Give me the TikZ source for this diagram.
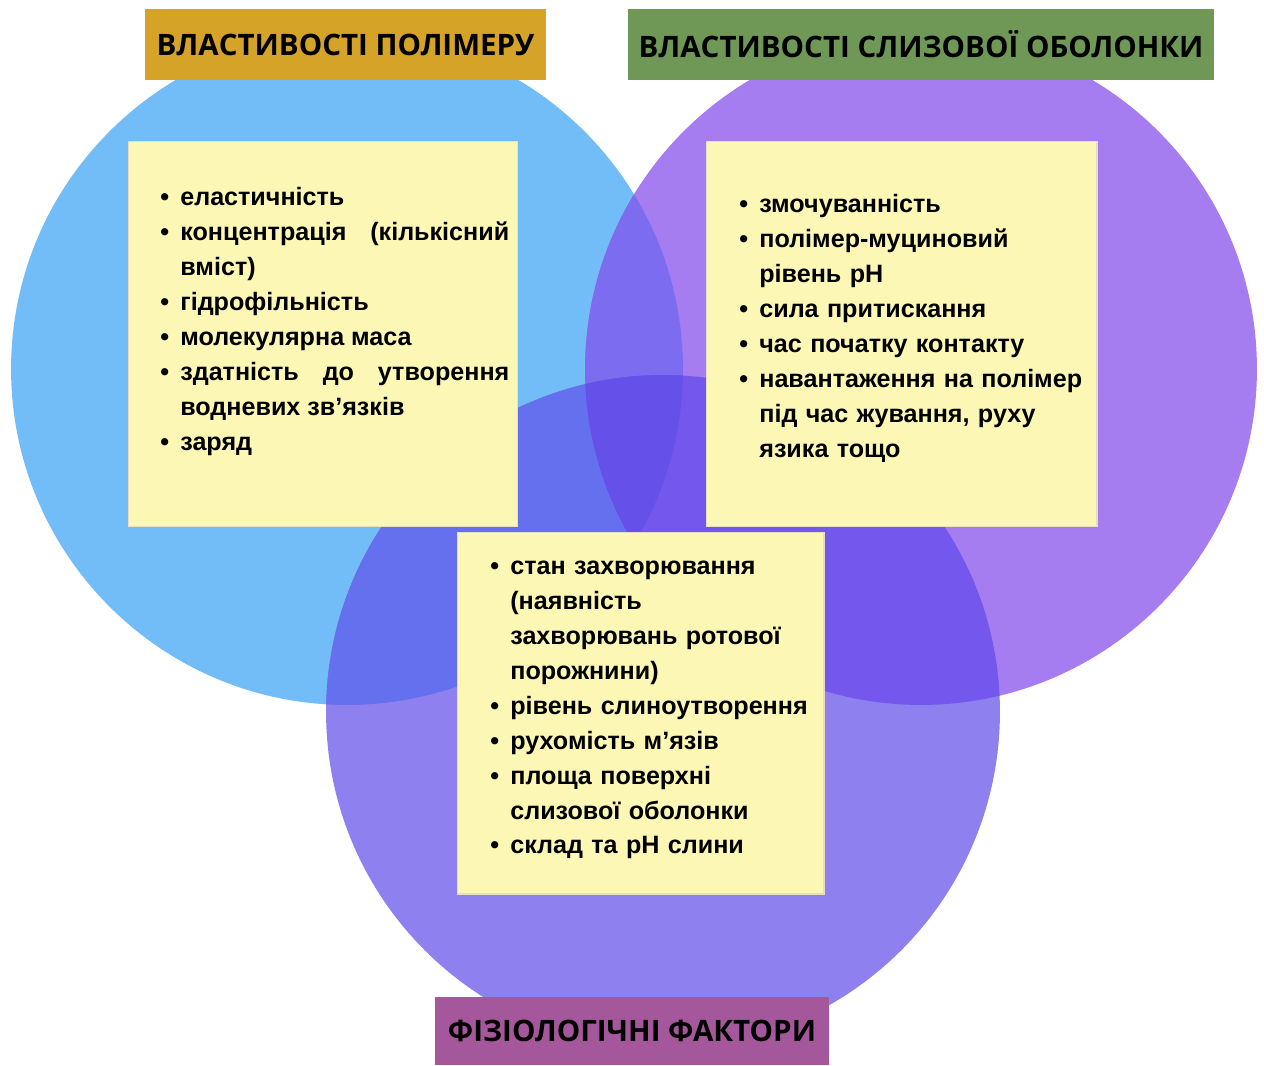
\documentclass[tikz,border=0pt]{standalone}
\usepackage{fontspec}
\newfontfamily\listfont{Liberation Sans}
\newfontfamily\headfont{Open Sans}
\usetikzlibrary{positioning}
\definecolor{polyblue}{HTML}{72BDF7}
\definecolor{mucviolet}{HTML}{A67CF1}
\definecolor{physviolet}{HTML}{8F80F0}
\definecolor{polymuc}{HTML}{7C6CF0}
\definecolor{polyphys}{HTML}{6570EF}
\definecolor{mucphys}{HTML}{7457ED}
\definecolor{allthree}{HTML}{6550EA}
\definecolor{notefill}{HTML}{FDF7B5}
\definecolor{noteline}{HTML}{E6E0C0}
\definecolor{goldhead}{HTML}{D4A327}
\definecolor{greenhead}{HTML}{6F9756}
\definecolor{plumhead}{HTML}{A5579B}
\newcommand{\bul}[1]{\par\noindent\hangindent=0.4cm\hangafter=1\makebox[0.4cm][l]{\textbullet}#1\par}
\tikzset{
  titlebox/.style = {rectangle, inner sep=0pt, minimum height=1.42cm, text=black,
    font=\headfont\bfseries\fontsize{16.8pt}{20pt}\selectfont},
  notebox/.style = {rectangle, inner sep=0pt, fill=notefill, draw=noteline, line width=0.6pt},
  listtext/.style = {inner sep=0pt, anchor=base west, text=black,
    font=\listfont\bfseries\fontsize{14.3pt}{19.85pt}\selectfont,
    execute at begin node={\hyphenpenalty=10000\exhyphenpenalty=10000\parskip=0pt}}
}
\begin{document}
\begin{tikzpicture}[x=0.02cm, y=-0.02cm]
	\useasboundingbox[fill=white] (0,0) rectangle (1264,1065);
	% circles
	\def\polycirc{(347,369) circle[radius=6.72cm]}
	\def\muccirc{(921,369) circle[radius=6.72cm]}
	\def\physcirc{(663,712) circle[radius=6.74cm]}
	\fill[polyblue] \polycirc;
	\fill[mucviolet] \muccirc;
	\fill[physviolet] \physcirc;
	% overlaps
	\begin{scope}
		\clip \polycirc;
		\fill[polymuc] \muccirc;
		\fill[polyphys] \physcirc;
	\end{scope}
	\begin{scope}
		\clip \muccirc;
		\fill[mucphys] \physcirc;
		\clip \polycirc;
		\fill[allthree] \physcirc;
	\end{scope}
	% titles
	\node [titlebox, fill=goldhead, minimum width=8.02cm] (polytitle) at (345.5,44.5) {ВЛАСТИВОСТІ ПОЛІМЕРУ};
	\node [titlebox, fill=greenhead, minimum width=11.72cm] (muctitle) at (921,44.5) {ВЛАСТИВОСТІ СЛИЗОВОЇ ОБОЛОНКИ};
	\node [titlebox, fill=plumhead, minimum width=7.88cm, minimum height=1.36cm] (phystitle) at (632,1031) {ФІЗІОЛОГІЧНІ ФАКТОРИ};
	% notes
	\node [notebox, minimum width=7.8cm, minimum height=7.72cm] (polybox) at (323,334) {};
	\node [notebox, minimum width=7.82cm, minimum height=7.72cm] (mucbox) at (901.5,334) {};
	\node [notebox, minimum width=7.34cm, minimum height=7.24cm] (physbox) at (640.5,713) {};
	\node [listtext, text width=6.98cm, align=justify] (polytext) at (160,171) {%
		\bul{еластичність}
		\bul{концентрація (кількісний\linebreak вміст)}
		\bul{гідрофільність}
		\bul{молекулярна маса}
		\bul{здатність до утворення\linebreak водневих зв’язків}
		\bul{заряд}};
	\node [listtext, text width=7.4cm, align=left] (muctext) at (739,178) {%
		\bul{змочуванність}
		\bul{полімер-муциновий\newline рівень рН}
		\bul{сила притискання}
		\bul{час початку контакту}
		\bul{навантаження на полімер\newline під час жування, руху\newline язика тощо}};
	\node [listtext, text width=7.0cm, align=left] (phystext) at (490,540) {%
		\bul{стан захворювання\newline (наявність\newline захворювань ротової\newline порожнини)}
		\bul{рівень слиноутворення}
		\bul{рухомість м’язів}
		\bul{площа поверхні\newline слизової оболонки}
		\bul{склад та рН слини}};
\end{tikzpicture}
\end{document}
